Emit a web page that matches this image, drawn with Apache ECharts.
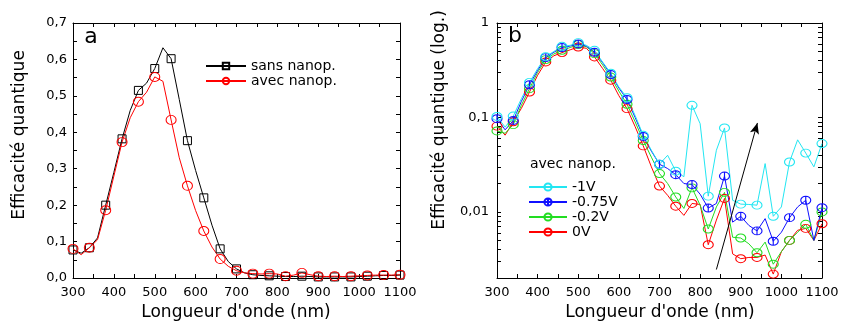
<!DOCTYPE html>
<html><head><meta charset="utf-8">
<script src="https://cdn.jsdelivr.net/npm/echarts@6/dist/echarts.min.js"></script>
<style>html,body{margin:0;padding:0;background:#fff}#c{width:843px;height:324px}</style>
</head><body><div id="c"></div>
<script>
// wavelengths (nm), every 20 nm; markers on every other point (every 40 nm)
const wavelengths = [300,320,340,360,380,400,420,440,460,480,500,520,540,560,580,600,620,640,660,680,700,720,740,760,780,800,820,840,860,880,900,920,940,960,980,1000,1020,1040,1060,1080,1100];

// Panel a (linear)
const sansNanop = [0.077,0.068,0.083,0.11,0.20,0.29,0.382,0.46,0.515,0.535,0.575,0.632,0.602,0.49,0.377,0.295,0.22,0.145,0.08,0.045,0.025,0.014,0.009,0.007,0.006,0.005,0.004,0.004,0.005,0.004,0.003,0.003,0.003,0.003,0.003,0.004,0.005,0.006,0.007,0.007,0.008];
const avecNanop = [0.08,0.064,0.083,0.105,0.186,0.28,0.373,0.44,0.484,0.51,0.552,0.54,0.434,0.33,0.253,0.185,0.129,0.085,0.052,0.032,0.02,0.014,0.012,0.011,0.012,0.011,0.005,0.008,0.014,0.009,0.005,0.004,0.005,0.004,0.005,0.006,0.007,0.008,0.008,0.008,0.009];

// Panel b (log)
const v1V   = [0.1025,0.079,0.1035,0.158,0.235,0.329,0.44,0.50,0.567,0.58,0.62,0.58,0.514,0.386,0.294,0.21,0.162,0.105,0.0648,0.045,0.032,0.0398,0.027,0.0236,0.1346,0.086,0.0147,0.045,0.0775,0.0133,0.0121,0.012,0.0118,0.0325,0.009,0.0113,0.0338,0.058,0.042,0.030,0.053];
const v075V = [0.097,0.074,0.093,0.148,0.222,0.315,0.43,0.49,0.55,0.57,0.60,0.57,0.49,0.38,0.285,0.205,0.155,0.10,0.063,0.044,0.032,0.0288,0.0248,0.02,0.0195,0.0154,0.011,0.0123,0.024,0.0078,0.009,0.0072,0.0063,0.0085,0.0049,0.0061,0.0087,0.0113,0.0133,0.005,0.0111];
const v02V  = [0.072,0.068,0.084,0.135,0.202,0.30,0.41,0.47,0.514,0.55,0.59,0.56,0.474,0.36,0.268,0.19,0.138,0.09,0.057,0.038,0.0255,0.02,0.0144,0.0109,0.018,0.0118,0.0066,0.0113,0.0161,0.0054,0.0053,0.0046,0.0037,0.0048,0.0028,0.0038,0.005,0.0061,0.0074,0.005,0.01];
const v0V   = [0.081,0.065,0.09,0.125,0.186,0.28,0.387,0.45,0.486,0.52,0.557,0.54,0.437,0.33,0.248,0.17,0.124,0.08,0.05,0.03,0.0188,0.015,0.0115,0.0092,0.0123,0.012,0.0045,0.0082,0.0139,0.0036,0.0032,0.0033,0.0033,0.0035,0.0022,0.0038,0.005,0.0064,0.0067,0.005,0.0075];

// arrow in panel b: [nm, value] start and end
const arrowStart = [840, 0.00246];
const arrowEnd = [941, 0.0875];

// tick values
const xTicks = [300,400,500,600,700,800,900,1000,1100];
const yTicksA = [0,0.1,0.2,0.3,0.4,0.5,0.6,0.7];
const yLabelsB = [0.01,0.1,1];
const yMinorB = [0.002,0.003,0.004,0.005,0.006,0.007,0.008,0.009,0.01,0.02,0.03,0.04,0.05,0.06,0.07,0.08,0.09,0.1,0.2,0.3,0.4,0.5,0.6,0.7,0.8,0.9,1];

const FONT = 'DejaVu Sans';
function pts(vals){
  return vals.map((v,i)=> i%2===0 ? {value:[wavelengths[i],v]} : {value:[wavelengths[i],v], symbol:'none'});
}
const comma = v => String(v).replace('.', ',');

function xAx(grid, pos){
  return {type:'value', gridIndex:grid, position:pos, min:300, max:1100, interval:100,
    axisLine:{show:true, onZero:false, lineStyle:{color:'#000', width:1}},
    axisTick:{show:true, inside:true, length:4, lineStyle:{color:'#000'}},
    minorTick:{show:true, splitNumber:2, length:4, lineStyle:{color:'#000'}},
    axisLabel:{show:pos==='bottom', margin:8, color:'#000', fontFamily:FONT, fontSize:13,
      customValues:xTicks, formatter:v=>String(Math.round(v))},
    splitLine:{show:false}};
}
function yAxA(pos){
  return {type:'value', gridIndex:0, position:pos, min:0, max:0.7, interval:0.1,
    axisLine:{show:true, onZero:false, lineStyle:{color:'#000', width:1}},
    axisTick:{show:true, inside:true, length:4, lineStyle:{color:'#000'}},
    minorTick:{show:true, splitNumber:2, length:4, lineStyle:{color:'#000'}},
    axisLabel:{show:pos==='left', margin:6, color:'#000', fontFamily:FONT, fontSize:13,
      customValues:yTicksA, formatter:v=>Number(v).toFixed(1).replace('.',',')},
    splitLine:{show:false}};
}
function yAxB(pos){
  return {type:'log', gridIndex:1, position:pos, min:0.002, max:1, logBase:10,
    axisLine:{show:true, onZero:false, lineStyle:{color:'#000', width:1}},
    axisTick:{show:true, inside:true, length:4, lineStyle:{color:'#000'}, customValues:yMinorB},
    axisLabel:{show:pos==='left', margin:8, color:'#000', fontFamily:FONT, fontSize:13,
      customValues:yLabelsB,
      formatter:v=>comma(+Number(v).toPrecision(3))},
    splitLine:{show:false}};
}

function lineSeries(name, vals, color, xi, yi, symbol, size){
  return {name, type:'line', xAxisIndex:xi, yAxisIndex:yi, data:pts(vals),
    symbol, symbolSize:size, showAllSymbol:true, color,
    lineStyle:{color, width:1}, itemStyle:{color:'rgba(0,0,0,0)', borderColor:color, borderWidth:1},
    emphasis:{disabled:true}, animation:false, z:3};
}
const circlePlus = 'path://M0,5A5,5 0 1,1 10,5A5,5 0 1,1 0,5ZM5,0L5,10';

const option = {
  backgroundColor:'#fff',
  animation:false,
  grid:[{left:73, top:23, width:327, height:255},
        {left:497, top:23, width:325, height:255}],
  xAxis:[xAx(0,'bottom'), xAx(0,'top'), xAx(1,'bottom'), xAx(1,'top')],
  yAxis:[yAxA('left'), yAxA('right'), yAxB('left'), yAxB('right')],
  legend:[
    {orient:'vertical', left:205, top:59, padding:0, itemWidth:40, itemHeight:8, itemGap:1,
     data:['sans nanop.','avec nanop.'], textStyle:{fontFamily:FONT, fontSize:14, color:'#000', lineHeight:14}},
    {orient:'vertical', left:528, top:180, padding:0, itemWidth:38, itemHeight:9, itemGap:1,
     data:['-1V',{name:'-0.75V', lineStyle:{width:2}},'-0.2V','0V'], textStyle:{fontFamily:FONT, fontSize:14, color:'#000', lineHeight:14}}
  ],
  graphic:[
    {type:'text', x:91, y:37, style:{text:'a', font:'22px "DejaVu Sans"', fill:'#000', textAlign:'center', textVerticalAlign:'middle'}},
    {type:'text', x:515, y:36, style:{text:'b', font:'22px "DejaVu Sans"', fill:'#000', textAlign:'center', textVerticalAlign:'middle'}},
    {type:'text', x:20, y:135, rotation:Math.PI/2, style:{text:'Efficacité quantique', font:'17px "DejaVu Sans"', fill:'#000', textAlign:'center', textVerticalAlign:'middle'}},
    {type:'text', x:440, y:120, rotation:Math.PI/2, style:{text:'Efficacité quantique (log.)', font:'17px "DejaVu Sans"', fill:'#000', textAlign:'center', textVerticalAlign:'middle'}},
    {type:'text', x:236, y:313, style:{text:"Longueur d'onde (nm)", font:'17px "DejaVu Sans"', fill:'#000', textAlign:'center', textVerticalAlign:'middle'}},
    {type:'text', x:660, y:313, style:{text:"Longueur d'onde (nm)", font:'17px "DejaVu Sans"', fill:'#000', textAlign:'center', textVerticalAlign:'middle'}},
    {type:'text', x:530, y:164, style:{text:'avec nanop.', font:'14px "DejaVu Sans"', fill:'#000', textAlign:'left', textVerticalAlign:'middle'}}
  ],
  series:[
    lineSeries('sans nanop.', sansNanop, '#000000', 0, 0, 'rect', 8),
    lineSeries('avec nanop.', avecNanop, '#ff0000', 0, 0, 'circle', [10,9]),
    lineSeries('0V', v0V, '#ff0000', 2, 2, 'circle', [10,8]),
    lineSeries('-0.2V', v02V, '#22dd22', 2, 2, 'circle', [10,8]),
    lineSeries('-0.75V', v075V, '#1010ff', 2, 2, circlePlus, [10,8]),
    lineSeries('-1V', v1V, '#22e6f2', 2, 2, 'circle', [10,8]),
    {type:'line', xAxisIndex:2, yAxisIndex:2, data:[], silent:true,
     markLine:{silent:true, symbol:['none','arrow'], symbolSize:[7,11], animation:false,
       lineStyle:{color:'#000', width:1, type:'solid'}, label:{show:false}, emphasis:{disabled:true},
       data:[[{coord:arrowStart},{coord:arrowEnd}]]}}
  ]
};
const chart = echarts.init(document.getElementById('c'), null, {renderer:'canvas'});
chart.setOption(option);
</script></body></html>
